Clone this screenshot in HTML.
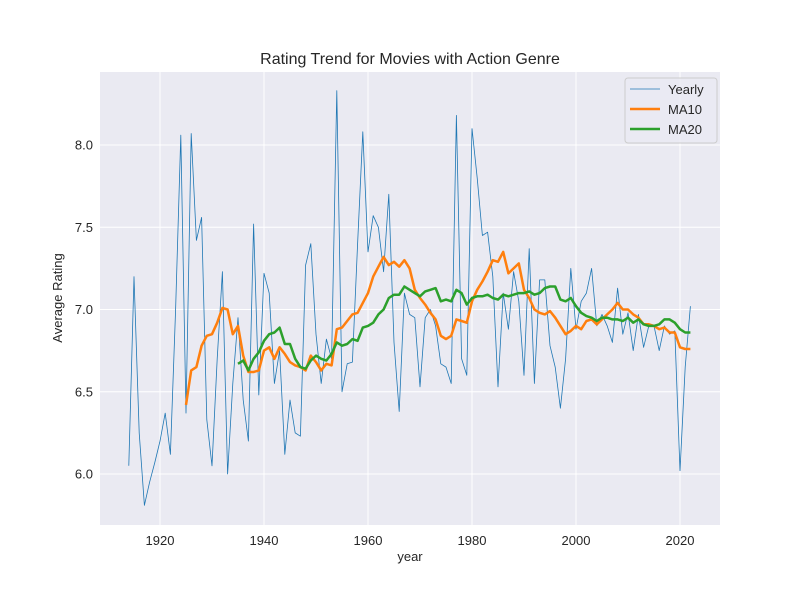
<!DOCTYPE html>
<html><head><meta charset="utf-8"><style>
body{margin:0;background:#fff;}
svg text{font-family:"Liberation Sans",sans-serif;fill:#262626;}
</style></head><body>
<svg id="chart" width="800" height="600">
<rect width="800" height="600" fill="#fff"/>
<rect x="100" y="72" width="620" height="453" fill="#eaeaf2"/>
<g id="grid"></g><g id="series"></g><g id="ticks"></g>
<text x="410" y="64" text-anchor="middle" font-size="16">Rating Trend for Movies with Action Genre</text>
<text x="410" y="561" text-anchor="middle" font-size="13">year</text>
<text x="62" y="298" text-anchor="middle" font-size="13" transform="rotate(-90 62 298)">Average Rating</text>
<g>
<rect x="625" y="78" width="92" height="65" rx="3" fill="#eaeaf2" stroke="#cccccc" fill-opacity="0.8"/>
<line x1="630" y1="89" x2="660" y2="89" stroke="#1f77b4" stroke-width="0.8"/>
<text x="668" y="94" font-size="13">Yearly</text>
<line x1="630" y1="109" x2="660" y2="109" stroke="#ff7f0e" stroke-width="2.5"/>
<text x="668" y="114" font-size="13">MA10</text>
<line x1="630" y1="129" x2="660" y2="129" stroke="#2ca02c" stroke-width="2.5"/>
<text x="668" y="134" font-size="13">MA20</text>
</g>
</svg>
<script>
const yearlyStart = 1914;
const yearly = [6.05,7.2,6.25,5.81,5.95,6.07,6.2,6.37,6.12,7.0,
8.06,6.37,8.07,7.42,7.56,6.33,6.05,6.7,7.23,6.0,
6.55,6.95,6.45,6.2,7.52,6.48,7.22,7.1,6.55,6.75,
6.12,6.45,6.25,6.23,7.27,7.4,6.85,6.55,6.82,6.7,
8.33,6.5,6.67,6.68,7.4,8.08,7.35,7.57,7.5,7.23,
7.7,6.8,6.38,7.1,6.97,6.95,6.53,6.95,7.0,6.9,
6.67,6.65,6.55,8.18,6.7,6.6,8.1,7.8,7.45,7.47,
7.2,6.53,7.1,6.88,7.23,7.05,6.6,7.37,6.55,7.18,
7.18,6.78,6.65,6.4,6.7,7.25,6.88,7.05,7.1,7.25,
6.9,6.97,6.9,6.8,7.13,6.85,6.98,6.75,6.97,6.77,
6.9,6.9,6.75,6.9,6.85,6.87,6.02,6.65,7.02];
const ma10Start = 1925;
const ma10 = [6.42,6.63,6.65,6.78,6.84,6.85,6.92,7.01,7.0,6.85,
6.9,6.72,6.62,6.62,6.63,6.75,6.77,6.7,6.77,6.73,
6.68,6.66,6.65,6.63,6.72,6.68,6.63,6.67,6.66,6.88,
6.89,6.93,6.97,6.98,7.04,7.1,7.2,7.26,7.32,7.27,
7.29,7.26,7.3,7.25,7.12,7.07,7.03,6.98,6.94,6.84,
6.82,6.84,6.94,6.93,6.92,7.05,7.12,7.17,7.23,7.3,
7.29,7.35,7.22,7.25,7.28,7.12,7.07,7.0,6.98,6.97,
6.99,6.95,6.9,6.85,6.87,6.9,6.88,6.93,6.94,6.91,
6.94,6.97,7.0,7.04,7.0,7.0,6.97,6.95,6.91,6.91,
6.9,6.88,6.89,6.86,6.86,6.77,6.76,6.76];
const ma20Start = 1935;
const ma20 = [6.67,6.69,6.63,6.7,6.74,6.81,6.85,6.86,6.89,6.79,
6.79,6.7,6.65,6.64,6.69,6.72,6.7,6.69,6.73,6.8,
6.78,6.79,6.82,6.81,6.89,6.9,6.92,6.97,7.0,7.07,
7.09,7.09,7.14,7.12,7.1,7.08,7.11,7.12,7.13,7.05,
7.06,7.05,7.12,7.1,7.03,7.07,7.08,7.08,7.09,7.07,
7.06,7.09,7.08,7.09,7.1,7.1,7.11,7.09,7.1,7.13,
7.14,7.14,7.06,7.05,7.07,7.02,6.98,6.96,6.95,6.93,
6.95,6.95,6.94,6.94,6.93,6.95,6.92,6.94,6.91,6.9,
6.9,6.91,6.94,6.94,6.92,6.88,6.86,6.86];
const xTicks = [1920,1940,1960,1980,2000,2020];
const yTicks = [6.0,6.5,7.0,7.5,8.0];

const X = yr => 160 + (yr - 1920) * 5.2;
const Y = v => 145 + (8 - v) * 164.5;
const NS = 'http://www.w3.org/2000/svg';
const grid = document.getElementById('grid'), ticks = document.getElementById('ticks'), series = document.getElementById('series');
function mk(tag, attrs, parent){const e=document.createElementNS(NS,tag);for(const k in attrs)e.setAttribute(k,attrs[k]);parent.appendChild(e);return e;}
xTicks.forEach(t=>{
  const l=mk('line',{x1:X(t),x2:X(t),y1:72,y2:525,stroke:'#fff','stroke-width':1},grid);
  
  
  const tx=mk('text',{x:X(t),y:545,'text-anchor':'middle','font-size':13},ticks);
  tx.textContent=t;
  
  
});
yTicks.forEach(t=>{
  const l=mk('line',{x1:100,x2:720,y1:Y(t),y2:Y(t),stroke:'#fff','stroke-width':1},grid);
  
  
  const tx=mk('text',{x:93,y:Y(t)+4.5,'text-anchor':'end','font-size':13},ticks);
  tx.textContent=t.toFixed(1);
  
  
});
function line(arr,start,color,w,name){
  const pts=arr.map((v,i)=>X(start+i).toFixed(1)+','+Y(v).toFixed(1)).join(' ');
  const p=mk('polyline',{points:pts,fill:'none',stroke:color,'stroke-width':w,'stroke-linejoin':'round'},series);
  
  
}
line(yearly,yearlyStart,'#1f77b4',0.8,'yearly-line');
line(ma10,ma10Start,'#ff7f0e',2.5,'ma10-line');
line(ma20,ma20Start,'#2ca02c',2.5,'ma20-line');
</script>
</body></html>
